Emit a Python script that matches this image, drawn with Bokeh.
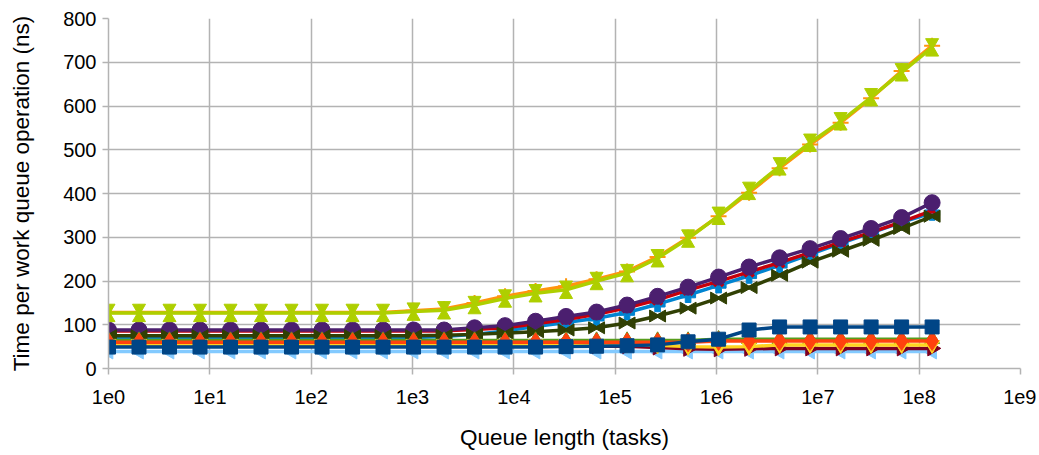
import math
from bokeh.plotting import figure
from bokeh.models import Range1d, FixedTicker, CustomJSTickFormatter
from bokeh.embed import file_html
from bokeh.resources import INLINE

# ---------------- data ----------------
queue_len = [1, 2, 4, 8, 16, 32, 64, 128, 256, 512, 1024, 2048, 4096, 8192,
             16384, 32768, 65536, 131072, 262144, 524288, 1048576, 2097152,
             4194304, 8388608, 16777216, 33554432, 67108864, 134217728]

s1_square = [49] * 15 + [50, 51, 52, 54, 61, 67, 88] + [95] * 6
s2_diamond = [60] * 20 + [63] * 8
s3_down = [56] * 17 + [55, 53, 50, 49, 50] + [54] * 6
s4_up = [64] * 20 + [67] * 8
s5_right = [51] * 18 + [48, 45, 44, 45] + [46] * 6
s6_left = [39] * 28
s7_bowtie = [75] * 11 + [76, 78, 81, 84, 88, 93, 104, 120, 138, 161, 185, 213,
                        243, 268, 293, 320, 348]
s8_sandglass = [127] * 10 + [130, 133, 145, 160, 172, 180, 200, 218, 252, 297,
                             349, 406, 462, 516, 565, 620, 677, 734]
s9_circle = [88] * 12 + [93, 98, 108, 119, 129, 145, 165, 186, 209, 232, 253,
                         274, 297, 320, 345, 379]
s10_star = [128] * 10 + [132, 136, 150, 165, 177, 188, 204, 222, 255, 299, 348,
                         402, 458, 512, 562, 618, 680, 738]
s11_x = [86] * 12 + [89, 93, 102, 112, 124, 139, 157, 179, 199, 221, 242, 265,
                     289, 311, 335, 361]
s12_plus = [71] * 11 + [73, 78, 86, 96, 105, 115, 128, 147, 168, 190, 212, 236,
                        261, 286, 310, 334, 356]

x_ticks = [1e0, 1e1, 1e2, 1e3, 1e4, 1e5, 1e6, 1e7, 1e8, 1e9]
y_ticks = [0, 100, 200, 300, 400, 500, 600, 700, 800]

# ---------------- layout ----------------
W, H = 1036, 452
BL, BR, BT, BB = 108, 16, 18, 81
frame_w = W - BL - BR
frame_h = H - BT - BB
px_per_decade = frame_w / 9.0
px_per_unit = frame_h / 800.0

FONT = "Liberation Sans"
GRID = "#b3b3b3"

p = figure(width=W, height=H, x_axis_type="log",
           x_range=Range1d(1, 1e9), y_range=Range1d(0, 800),
           output_backend="svg", toolbar_location=None,
           min_border_left=BL, min_border_right=BR,
           min_border_top=BT, min_border_bottom=BB)
p.outline_line_color = None
p.background_fill_color = "white"
p.border_fill_color = "white"

p.xaxis.ticker = FixedTicker(ticks=x_ticks)
p.xaxis.formatter = CustomJSTickFormatter(code="return '1e' + Math.round(Math.log10(tick));")
p.yaxis.ticker = FixedTicker(ticks=y_ticks)

for ax in (p.xaxis, p.yaxis):
    ax.axis_line_color = GRID
    ax.axis_line_width = 1.5
    ax.major_tick_line_color = GRID
    ax.major_tick_line_width = 1.5
    ax.major_tick_out = 6
    ax.major_tick_in = 0
    ax.minor_tick_line_color = None
    ax.major_label_text_font = FONT
    ax.major_label_text_font_size = "20px"
    ax.major_label_text_color = "black"
    ax.axis_label_text_font = FONT
    ax.axis_label_text_font_size = "22.5px"
    ax.axis_label_text_font_style = "normal"
    ax.axis_label_text_color = "black"

p.xaxis.axis_label = "Queue length (tasks)"
p.yaxis.axis_label = "Time per work queue operation (ns)"
p.xaxis.major_label_standoff = 15
p.xaxis.axis_label_standoff = 18
p.yaxis.major_label_standoff = 6
p.yaxis.axis_label_standoff = 26

p.xgrid.grid_line_color = GRID
p.ygrid.grid_line_color = GRID
p.xgrid.grid_line_width = 1.5
p.ygrid.grid_line_width = 1.5
p.xgrid.minor_grid_line_color = None

LW = 3.5

def line(ys, color):
    p.line(queue_len, ys, line_color=color, line_width=LW)

def marks(ys, color, marker, size, angle=0.0, lw=1.0, xs=None):
    p.scatter(xs if xs is not None else queue_len, ys, marker=marker, size=size,
              fill_color=color, line_color=color, line_width=lw, angle=angle)

# LibreOffice draws later series underneath -> draw in reverse order
# 12 blue plus
line(s12_plus, "#0084d1")
marks(s12_plus, "#0084d1", "plus", 15)
# 11 red x
line(s11_x, "#c5000b")
marks(s11_x, "#c5000b", "x", 13, lw=3.5)
# 10 orange star
line(s10_star, "#ff950e")
marks(s10_star, "#ff950e", "cross", 16, lw=2)
# 9 purple circle
line(s9_circle, "#4b1f6f")
marks(s9_circle, "#4b1f6f", "circle", 16)
# 8 yellow-green sandglass
c8 = "#aecf00"
line(s8_sandglass, c8)
dy = 5.0 / px_per_unit
marks([v + dy for v in s8_sandglass], c8, "inverted_triangle", 13)
marks([v - dy for v in s8_sandglass], c8, "triangle", 13)
# 7 dark olive bowtie
c7 = "#314004"
line(s7_bowtie, c7)
f = 10 ** (4.5 / px_per_decade)
marks(s7_bowtie, c7, "triangle", 12, angle=-math.pi / 2, xs=[x / f for x in queue_len])
marks(s7_bowtie, c7, "triangle", 12, angle=math.pi / 2, xs=[x * f for x in queue_len])
# 6 light blue left arrow
line(s6_left, "#83caff")
marks(s6_left, "#83caff", "triangle", 15, angle=math.pi / 2)
# 5 maroon right arrow
line(s5_right, "#7e0021")
marks(s5_right, "#7e0021", "triangle", 15, angle=-math.pi / 2)
# 4 green up triangle
line(s4_up, "#579d1c")
marks(s4_up, "#579d1c", "triangle", 15)
# 3 yellow down triangle
line(s3_down, "#ffd320")
marks(s3_down, "#ffd320", "inverted_triangle", 15)
# 2 orange-red diamond
line(s2_diamond, "#ff420e")
marks(s2_diamond, "#ff420e", "diamond", 19)
# 1 dark blue square
line(s1_square, "#004586")
marks(s1_square, "#004586", "square", 14)

open("out.html", "w").write(file_html(p, INLINE))
